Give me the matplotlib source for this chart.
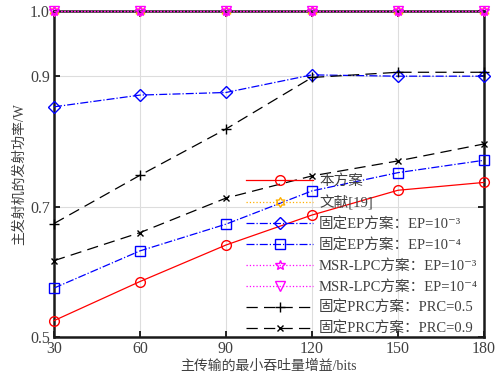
import matplotlib
matplotlib.use("Agg")
import matplotlib.pyplot as plt
import numpy as np
from matplotlib.path import Path

plt.rcParams['font.family'] = ['Liberation Serif', 'Noto Sans CJK SC', 'DejaVu Serif']

# data
gain = [30, 60, 90, 120, 150, 180]
ours = [0.525, 0.585, 0.641, 0.687, 0.725, 0.737]
ref19 = [1.0, 1.0, 1.0, 1.0, 1.0, 1.0]
ep3 = [0.853, 0.871, 0.875, 0.902, 0.900, 0.900]
ep4 = [0.575, 0.632, 0.673, 0.724, 0.752, 0.771]
msr3 = [1.0, 1.0, 1.0, 1.0, 1.0, 1.0]
msr4 = [1.0, 1.0, 1.0, 1.0, 1.0, 1.0]
prc5 = [0.674, 0.748, 0.819, 0.898, 0.906, 0.906]
prc9 = [0.617, 0.660, 0.713, 0.747, 0.770, 0.796]

labels = ["本方案", "文献[19]",
          "固定EP方案：EP=10⁻³", "固定EP方案：EP=10⁻⁴",
          "MSR-LPC方案：EP=10⁻³", "MSR-LPC方案：EP=10⁻⁴",
          "固定PRC方案：PRC=0.5", "固定PRC方案：PRC=0.9"]

# six-pointed star marker (hexagram)
ang = np.deg2rad(90 + 30 * np.arange(12))
rad = np.where(np.arange(12) % 2 == 0, 1.0, 1 / np.sqrt(3))
verts = np.column_stack([rad * np.cos(ang), rad * np.sin(ang)])
verts = np.vstack([verts, verts[:1]])
hexagram = Path(verts, closed=True)

fig = plt.figure(figsize=(4.97, 3.79), dpi=100)
ax = fig.add_axes([0.1087, 0.111, 0.865, 0.860])

common = dict(lw=0.9, ms=7, mfc='none', mew=1.0, clip_on=False, zorder=3)
ax.plot(gain, ours, '-', color='#ff0000', marker='o', label=labels[0], **common)
ax.plot(gain, ref19, ':', color='#ffb000', marker=hexagram, label=labels[1], **common)
ax.plot(gain, ep3, '-.', color='#0000ff', marker='D', label=labels[2],
        lw=0.9, ms=6, mfc='none', mew=1.0, clip_on=False, zorder=3)
ax.plot(gain, ep4, '-.', color='#0000ff', marker='s', label=labels[3], **common)
ax.plot(gain, msr3, ':', color='#ff00ff', marker='*', label=labels[4], **common)
ax.plot(gain, msr4, ':', color='#ff00ff', marker='v', label=labels[5], **common)
ax.plot(gain, prc5, '--', color='black', marker='+', label=labels[6],
        dashes=(9, 5), **common)
ax.plot(gain, prc9, '--', color='black', marker='x', label=labels[7],
        dashes=(9, 5), lw=0.9, ms=5, mfc='none', mew=1.0, clip_on=False, zorder=3)

ax.set_xlim(30, 180)
ax.set_ylim(0.5, 1.0)
ax.set_xticks(gain)
ax.set_yticks([0.5, 0.7, 0.9, 1.0])
ax.set_yticklabels(["0.5", "0.7", "0.9", "1.0"])
ax.grid(True, color='#dddddd', lw=0.8)
ax.set_axisbelow(True)
ax.tick_params(direction='in', top=True, right=True, length=4, width=1.2,
               labelsize=11.5, labelcolor='#404040', pad=3)
for sp in ax.spines.values():
    sp.set_linewidth(1.8)
    sp.set_color('#1a1a1a')

ax.set_xlabel("主传输的最小吞吐量增益/bits", fontsize=10, color='#404040', labelpad=2)
ax.set_ylabel("主发射机的发射功率/W", fontsize=10, color='#404040', labelpad=3)

leg = ax.legend(loc='lower right', bbox_to_anchor=(1.0, -0.015), frameon=False,
                fontsize=10.5, handlelength=4.6, handletextpad=0.4,
                labelspacing=0.48, borderaxespad=0.0, numpoints=1)
for t in leg.get_texts():
    t.set_color('#404040')

fig.savefig("out.png", dpi=100)
